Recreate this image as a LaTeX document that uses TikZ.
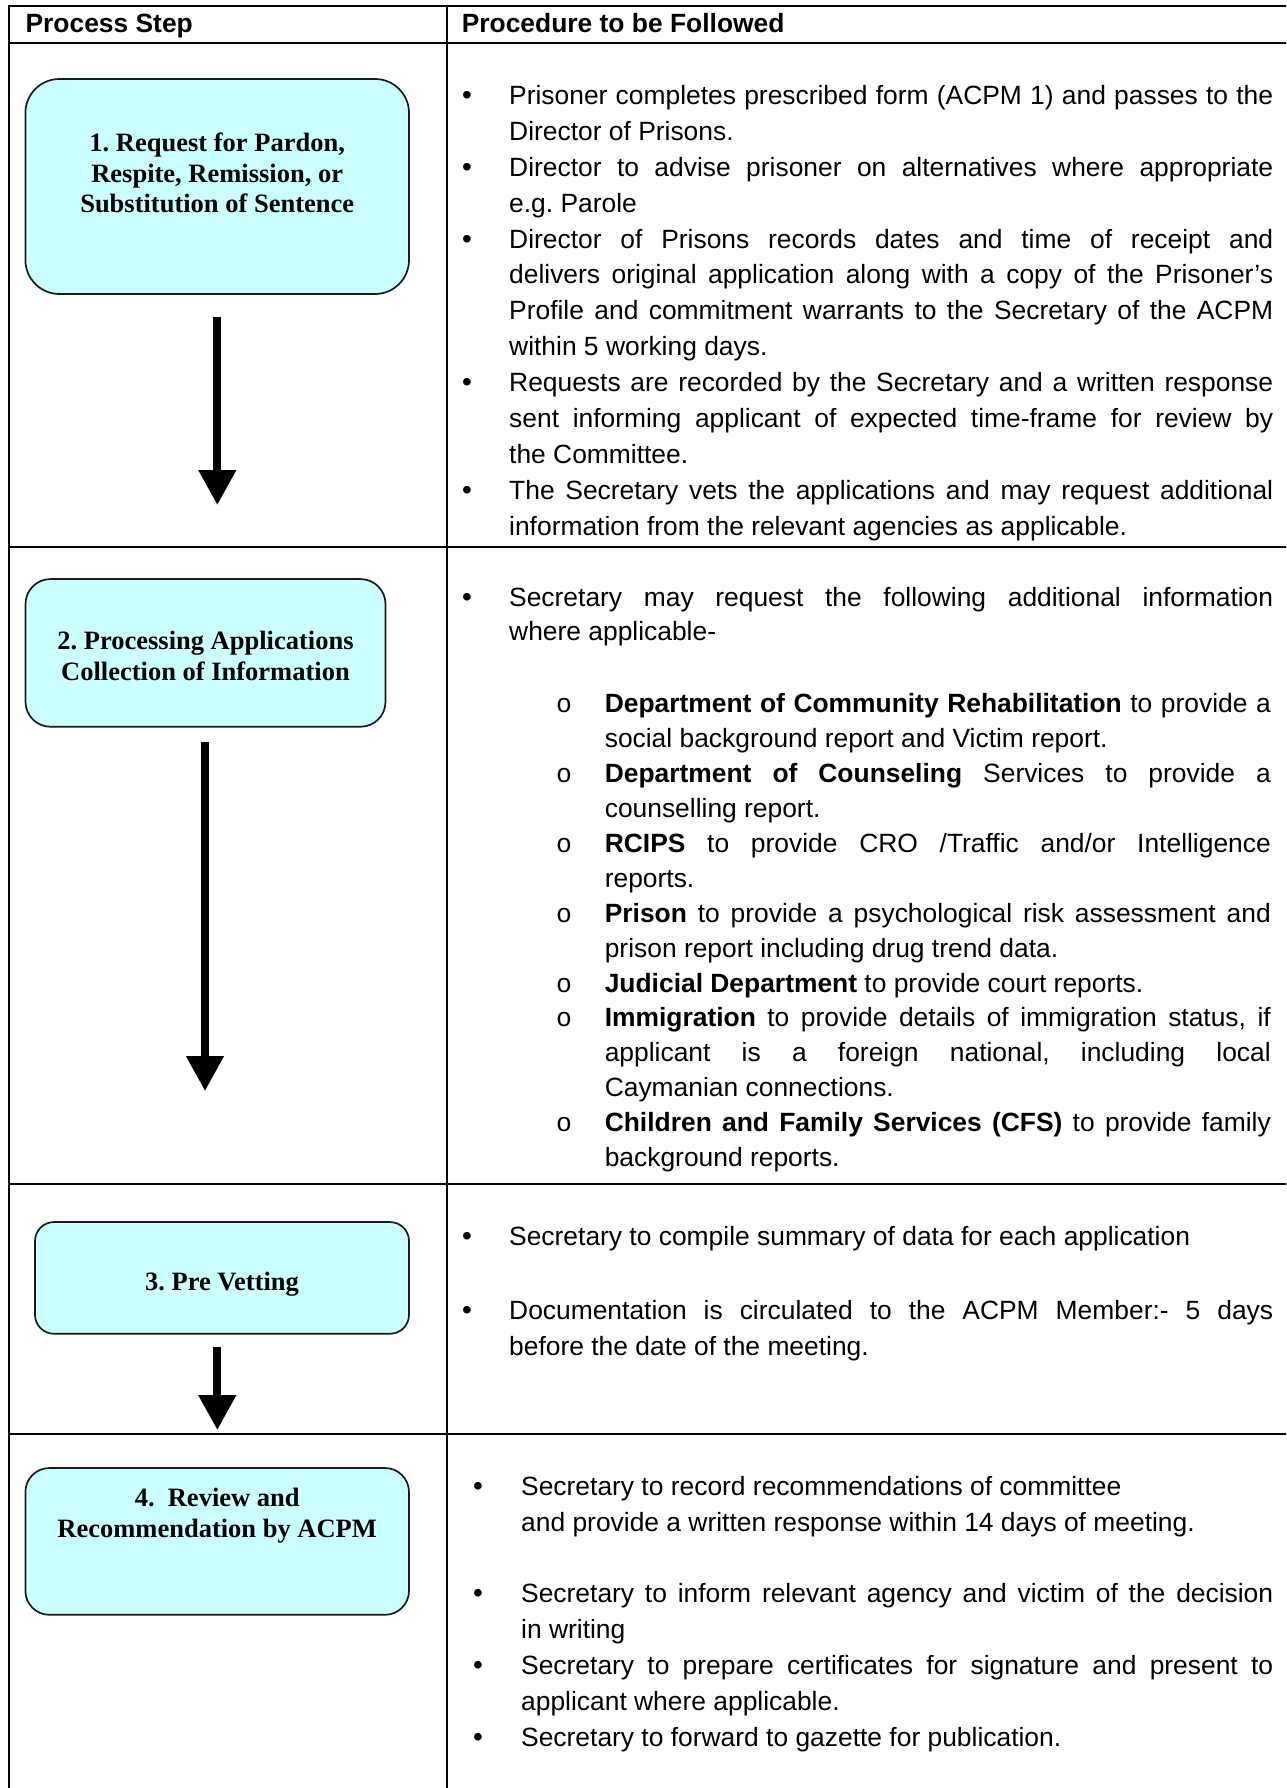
\documentclass[tikz,border=0pt]{standalone}
\usepackage{fontspec}
\setmainfont{Liberation Sans}
\newfontfamily\boxfont{Liberation Serif}
\newfontfamily\markfont{Liberation Mono}
\usetikzlibrary{arrows.meta}
\definecolor{boxfill}{HTML}{CCFFFF}
\definecolor{boxline}{HTML}{1A1A1A}
\hyphenpenalty=10000
\exhyphenpenalty=10000
\tolerance=10000
\hbadness=10000
\frenchspacing
\begin{document}
\begin{tikzpicture}[x=1pt,y=-1pt,
 tabrule/.style={line width=2pt,black},
 stepbox/.style={draw=boxline, line width=1.7pt, fill=boxfill, rounded corners=#1, inner sep=0pt},
 boxtext/.style={font=\boxfont\bfseries\fontsize{26.5}{30.8}\selectfont, align=center, inner sep=0pt},
 hdr/.style={font=\bfseries\fontsize{26.4}{30}\selectfont, anchor=base west, inner sep=0pt},
 para/.style={font=\fontsize{26.4}{35.9}\selectfont, text width=#1, align=justify, anchor=base west, inner sep=0pt},
 parb/.style={font=\fontsize{26.4}{34.9}\selectfont, text width=#1, align=justify, anchor=base west, inner sep=0pt},
 dotmark/.style={font=\fontsize{28}{30}\selectfont, anchor=base, inner sep=0pt},
 ringmark/.style={font=\markfont\fontsize{26.4}{30}\selectfont, anchor=base, inner sep=0pt},
 flow/.style={line width=7.7pt, -{Triangle[length=35pt,width=36pt]}}
]
\path[use as bounding box] (0,0) rectangle (1286,1788);
\fill[white] (0,0) rectangle (1286,1788);
\clip (0,0) rectangle (1286,1788);

% table rules
\draw[tabrule] (8.3,5.7) -- (1292,5.7);
\draw[tabrule] (8.3,43.3) -- (1292,43.3);
\draw[tabrule] (8.3,546.7) -- (1292,546.7);
\draw[tabrule] (8.3,1184.3) -- (1292,1184.3);
\draw[tabrule] (8.3,1433.7) -- (1292,1433.7);
\draw[tabrule] (9.3,4.7) -- (9.3,1795);
\draw[tabrule] (446.7,4.7) -- (446.7,1795);

% header
\node[hdr] (h1) at (25.4,32.8) {Process Step};
\node[hdr] (h2) at (461.6,32.8) {Procedure to be Followed};

% process boxes
\node[stepbox=34pt, minimum width=383.6pt, minimum height=215pt] (b1) at (217.2,186.5) {};
\node[boxtext] (t1) at (217.2,173) {1. Request for Pardon,\\Respite, Remission, or\\Substitution of Sentence};

\node[stepbox=25pt, minimum width=360pt, minimum height=147.7pt] (b2) at (205.5,652.9) {};
\node[boxtext] (t2) at (205.5,656) {2. Processing Applications\\Collection of Information};

\node[stepbox=19pt, minimum width=374pt, minimum height=111.7pt] (b3) at (222,1277.9) {};
\node[boxtext] (t3) at (222,1284) {3. Pre Vetting};

\node[stepbox=24pt, minimum width=383.6pt, minimum height=146.8pt] (b4) at (217.2,1541.4) {};
\node[boxtext] (t4) at (217.2,1516) {4.\hspace{0.5em}Review and\\Recommendation by ACPM};

% arrows
\coordinate (a1s) at (217.3,317);
\coordinate (a1e) at (217.3,505);
\coordinate (a2s) at (205,742);
\coordinate (a2e) at (205,1091);
\coordinate (a3s) at (217.3,1347);
\coordinate (a3e) at (217.3,1430);
\draw[flow] (a1s) -- (a1e);
\draw[flow] (a2s) -- (a2e);
\draw[flow] (a3s) -- (a3e);

% row 1
\node[dotmark] (m11) at (467,104.4) {•};
\node[para=764pt] (p11) at (509,104.4) {Prisoner completes prescribed form (ACPM 1) and passes to the\linebreak Director of Prisons.};
\node[dotmark] (m12) at (467,176.2) {•};
\node[para=764pt] (p12) at (509,176.2) {Director to advise prisoner on alternatives where appropriate\linebreak e.g.\ Parole};
\node[dotmark] (m13) at (467,248) {•};
\node[para=764pt] (p13) at (509,248) {Director of Prisons records dates and time of receipt and\linebreak delivers original application along with a copy of the Prisoner’s\linebreak Profile and commitment warrants to the Secretary of the ACPM\linebreak within 5 working days.};
\node[dotmark] (m14) at (467,391.6) {•};
\node[para=764pt] (p14) at (509,391.6) {Requests are recorded by the Secretary and a written response\linebreak sent informing applicant of expected time-frame for review by\linebreak the Committee.};
\node[dotmark] (m15) at (467,499.3) {•};
\node[para=764pt] (p15) at (509,499.3) {The Secretary vets the applications and may request additional\linebreak information from the relevant agencies as applicable.};

% row 2
\node[dotmark] (m21) at (467,606) {•};
\node[parb=764pt] (p21) at (509,606) {Secretary may request the following additional information\linebreak where applicable-};
\node[ringmark] (o1) at (564,712.7) {o};
\node[parb=666pt] (s1) at (604.6,712.7) {\textbf{Department of Community Rehabilitation} to provide a\linebreak social background report and Victim report.};
\node[ringmark] (o2) at (564,782.5) {o};
\node[parb=666pt] (s2) at (604.6,782.5) {\textbf{Department of Counseling} Services to provide a\linebreak counselling report.};
\node[ringmark] (o3) at (564,852.3) {o};
\node[parb=666pt] (s3) at (604.6,852.3) {\textbf{RCIPS} to provide CRO /Traffic and/or Intelligence\linebreak reports.};
\node[ringmark] (o4) at (564,922.1) {o};
\node[parb=666pt] (s4) at (604.6,922.1) {\textbf{Prison} to provide a psychological risk assessment and\linebreak prison report including drug trend data.};
\node[ringmark] (o5) at (564,992) {o};
\node[parb=666pt] (s5) at (604.6,992) {\textbf{Judicial Department} to provide court reports.};
\node[ringmark] (o6) at (564,1026.8) {o};
\node[parb=666pt] (s6) at (604.6,1026.8) {\textbf{Immigration} to provide details of immigration status, if\linebreak applicant is a foreign national, including local\linebreak Caymanian connections.};
\node[ringmark] (o7) at (564,1131.5) {o};
\node[parb=666pt] (s7) at (604.6,1131.5) {\textbf{Children and Family Services (CFS)} to provide family\linebreak background reports.};

% row 3
\node[dotmark] (m31) at (467,1245.7) {•};
\node[para=764pt] (p31) at (509,1245.7) {Secretary to compile summary of data for each application};
\node[dotmark] (m32) at (467,1319.5) {•};
\node[para=764pt] (p32) at (509,1319.5) {Documentation is circulated to the ACPM Member:- 5 days\linebreak before the date of the meeting.};

% row 4
\node[dotmark] (m41) at (478,1495.5) {•};
\node[para=752pt] (p41) at (521,1495.5) {Secretary to record recommendations of committee\\and provide a written response within 14 days of meeting.};
\node[dotmark] (m42) at (478,1602.9) {•};
\node[para=752pt] (p42) at (521,1602.9) {Secretary to inform relevant agency and victim of the decision\linebreak in writing};
\node[dotmark] (m43) at (478,1674.5) {•};
\node[para=752pt] (p43) at (521,1674.5) {Secretary to prepare certificates for signature and present to\linebreak applicant where applicable.};
\node[dotmark] (m44) at (478,1746.1) {•};
\node[para=752pt] (p44) at (521,1746.1) {Secretary to forward to gazette for publication.};
\end{tikzpicture}
\end{document}
